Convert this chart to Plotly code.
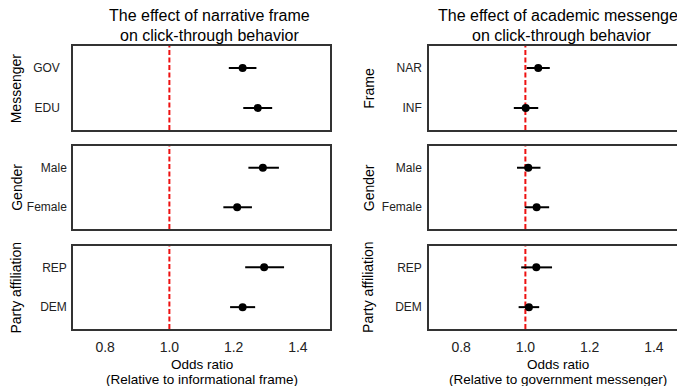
import plotly.graph_objects as go

# ---- data ----
left_title = ["The effect of narrative frame", "on click-through behavior"]
right_title = ["The effect of academic messenger", "on click-through behavior"]
left_xlabel = ["Odds ratio", "(Relative to informational frame)"]
right_xlabel = ["Odds ratio", "(Relative to government messenger)"]

# left column (narrative frame effect)
l_groups = ["Messenger", "Gender", "Party affiliation"]
l_cats = [["GOV", "EDU"], ["Male", "Female"], ["REP", "DEM"]]
l_or = [[1.228, 1.275], [1.291, 1.211], [1.295, 1.228]]
l_lo = [[1.185, 1.230], [1.246, 1.168], [1.236, 1.189]]
l_hi = [[1.271, 1.320], [1.341, 1.257], [1.357, 1.267]]

# right column (academic messenger effect)
r_groups = ["Frame", "Gender", "Party affiliation"]
r_cats = [["NAR", "INF"], ["Male", "Female"], ["REP", "DEM"]]
r_or = [[1.040, 1.001], [1.009, 1.035], [1.034, 1.011]]
r_lo = [[1.004, 0.964], [0.974, 0.998], [0.987, 0.979]]
r_hi = [[1.076, 1.040], [1.047, 1.074], [1.083, 1.043]]

x_ticks = [0.8, 1.0, 1.2, 1.4]
ref_value = 1.0
x_range = [0.7, 1.5]

# ---- layout ----
W, H = 685, 386
ML, MR, MT, MB = 65, 7, 38, 65
PW = W - ML - MR
PH = H - MT - MB

def px_x(p):
    return (p - ML) / PW

def px_y(p):
    return (H - MB - p) / PH

col_dom = [[0, px_x(322)], [px_x(421), 1]]
row_dom = [[px_y(122), 1], [px_y(221), px_y(138)], [0, px_y(237.5)]]
ylab_standoff = [[9, 2, 2], [3, 3, 3]]

font = "Liberation Sans, Arial, sans-serif"
fig = go.Figure()
layout = dict(
    template="none",
    width=W, height=H,
    margin=dict(l=ML, r=MR, t=MT, b=MB, autoexpand=False),
    paper_bgcolor="white", plot_bgcolor="white",
    showlegend=False,
    font=dict(family=font, color="black"),
)
shapes = []
annotations = []

cols = [
    (l_groups, l_cats, l_or, l_lo, l_hi, left_title, left_xlabel),
    (r_groups, r_cats, r_or, r_lo, r_hi, right_title, right_xlabel),
]

def add_text(text, x, y, size, angle=0):
    annotations.append(dict(
        text=text, textangle=angle, xref="paper", yref="paper",
        x=px_x(x), y=px_y(y), xanchor="center", yanchor="middle",
        showarrow=False, borderpad=0,
        font=dict(size=size, family=font, color="black"),
    ))

idx = 0
for c, (groups, cats, ors, los, his, ttl, xl) in enumerate(cols):
    for r in range(3):
        idx += 1
        xa = "x" if idx == 1 else f"x{idx}"
        ya = "y" if idx == 1 else f"y{idx}"
        xkey = "xaxis" if idx == 1 else f"xaxis{idx}"
        ykey = "yaxis" if idx == 1 else f"yaxis{idx}"
        cat = cats[r]
        o = ors[r]
        plus = [h - v for h, v in zip(his[r], o)]
        minus = [v - l for l, v in zip(los[r], o)]
        # reference line
        shapes.append(dict(type="line", xref=xa, yref=f"{ya} domain",
                           x0=ref_value, x1=ref_value, y0=0, y1=1,
                           line=dict(color="#ee1111", width=2, dash="5px,2.5px"),
                           layer="below"))
        fig.add_trace(go.Scatter(
            x=o, y=cat, mode="markers", xaxis=xa, yaxis=ya,
            marker=dict(color="black", size=8),
            error_x=dict(type="data", symmetric=False, array=plus,
                         arrayminus=minus, color="black", thickness=2, width=0),
        ))
        layout[xkey] = dict(
            domain=col_dom[c], anchor=ya, range=x_range, automargin=False,
            tickvals=x_ticks, ticktext=[f"{t:.1f}" for t in x_ticks],
            showticklabels=(r == 2), ticks="", showgrid=False, zeroline=False,
            showline=True, mirror=True, linecolor="#333333", linewidth=1.5,
            tickfont=dict(size=14, family=font, color="#222"),
            ticklabelstandoff=4,
        )
        layout[ykey] = dict(
            domain=row_dom[r], anchor=xa, type="category", automargin=False,
            categoryorder="array", categoryarray=list(reversed(cat)),
            range=[-0.55, 1.55], ticks="", showgrid=False, zeroline=False,
            showline=True, mirror=True, linecolor="#333333", linewidth=1.5,
            tickfont=dict(size=12, family=font, color="#222"),
            ticklabelstandoff=ylab_standoff[c][r],
        )
        ytx = 8.3 if c == 0 else 360.7
        annotations.append(dict(
            text=groups[r], textangle=-90, xref="paper", yref=f"{ya} domain",
            x=px_x(ytx), y=0.5, xanchor="center", yanchor="middle",
            showarrow=False, font=dict(size=14, family=font, color="black"),
        ))
    tx = 201 if c == 0 else 553
    add_text(ttl[0], tx, 8.0, 16)
    add_text(ttl[1], tx, 28.0, 16)
    cx = (col_dom[c][0] + col_dom[c][1]) / 2 * PW + ML
    add_text(xl[0], cx, 356.0, 13.5)
    add_text(xl[1], cx, 371.5, 13.5)

layout["shapes"] = shapes
layout["annotations"] = annotations
fig.update_layout(**layout)
fig.write_html("out.html")
